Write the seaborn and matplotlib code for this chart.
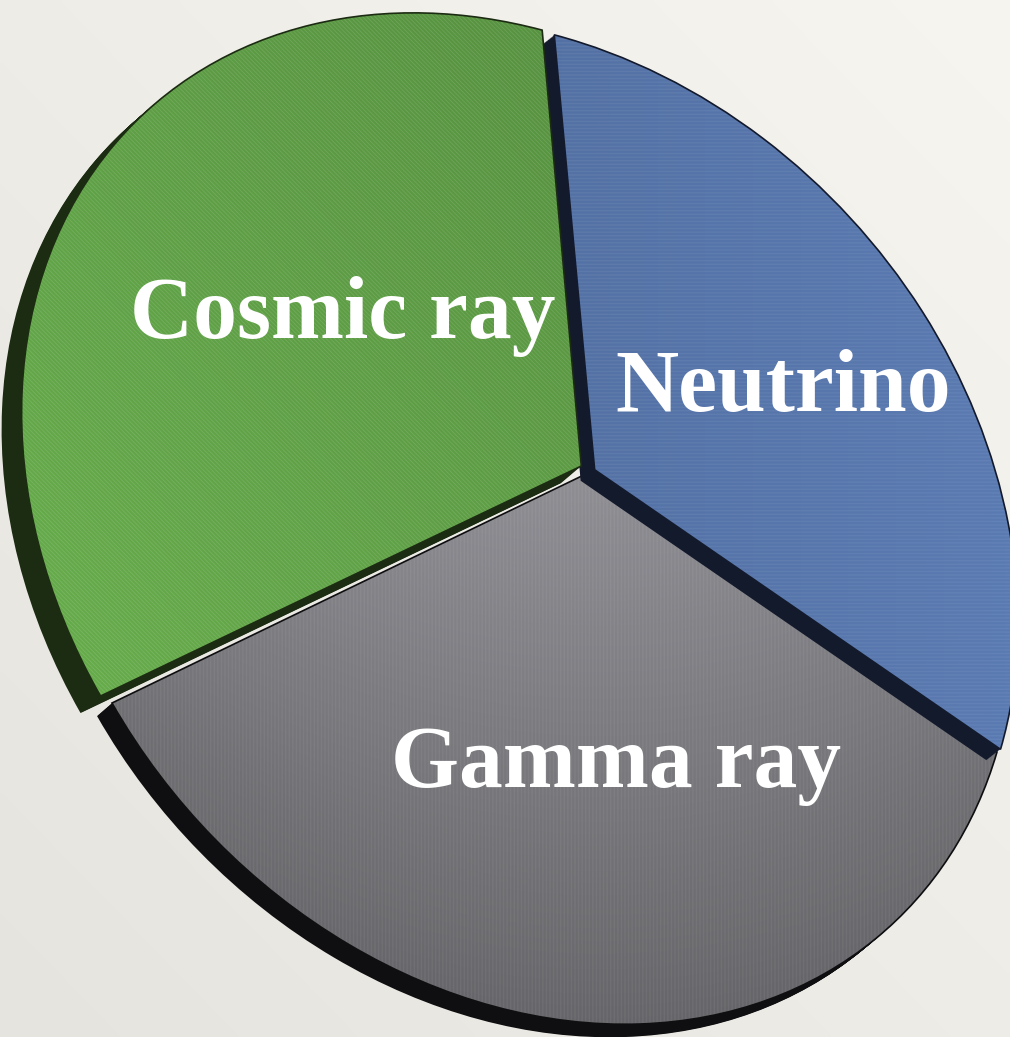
import numpy as np
import matplotlib
matplotlib.use("Agg")
import matplotlib.pyplot as plt
import matplotlib.transforms as mtransforms
from matplotlib.patches import Wedge
from matplotlib.colors import to_rgb
import seaborn as sns

# ---- data -------------------------------------------------------------
categories = ["Cosmic ray", "Gamma ray", "Neutrino"]
shares = [1, 1, 1]

# ---- styling ----------------------------------------------------------
face_colors = ["#5e9e45", "#737378", "#4d6ea7"]
side_colors = ["#1c2c12", "#0f0f11", "#131a2c"]
explode = [0.02, 0.0, 0.012]
hatches = ["\\\\\\\\\\\\\\\\", "||||||||||||", "------------"]
draw_order = [1, 2, 0]          # back to front
depths = [(-20.0, 17.0), (-15.0, 13.0), (-14.0, 11.0)]   # slab extrusion, pixels
label_nudge = [(10, 22), (0, 7), (-5, 13)]                # pixels
N_LAYERS = 20

W, HPX = 1010, 1037

sns.set_theme(style="white")
plt.rcParams["font.family"] = ["Liberation Serif", "DejaVu Serif"]
plt.rcParams["hatch.linewidth"] = 0.6


class Projection(mtransforms.Transform):
    """Planar perspective (homography) that tilts the pie disc."""
    input_dims = output_dims = 2
    is_separable = False
    has_inverse = False

    def __init__(self, m):
        super().__init__()
        self.m = np.asarray(m, float)

    def transform_non_affine(self, values):
        v = np.atleast_2d(np.asarray(values, float))
        p = np.column_stack([v, np.ones(len(v))]) @ self.m.T
        return p[:, :2] / p[:, 2:3]


def homography(src, dst):
    rows, rhs = [], []
    for (x, y), (u, v) in zip(src, dst):
        rows.append([x, y, 1, 0, 0, 0, -u * x, -u * y]); rhs.append(u)
        rows.append([0, 0, 0, x, y, 1, -v * x, -v * y]); rhs.append(v)
    h = np.linalg.solve(np.array(rows), np.array(rhs))
    return np.append(h, 1.0).reshape(3, 3)


# disc frame: centre, top, lower-left and lower-right rim points -> pixels
ang = np.radians([210, 330])
disc_pts = [(0, 0), (0, 1), (np.cos(ang[0]), np.sin(ang[0])), (np.cos(ang[1]), np.sin(ang[1]))]
view_pts = [(590, 472), (550, 36), (112, 703), (997, 752)]
proj = Projection(homography(disc_pts, view_pts))

fig = plt.figure(figsize=(W / 100, HPX / 100), dpi=100)
ax = fig.add_axes([0, 0, 1, 1])

# paper background
gy, gx = np.mgrid[0:HPX:4, 0:W:4]
t = np.clip(0.5 * (W - gx) / W + 0.5 * gy / HPX, 0, 1)[..., None]
top, bottom = np.array(to_rgb("#f7f5f0")), np.array(to_rgb("#e6e4df"))
ax.imshow(top * (1 - t) + bottom * t, extent=[0, W, HPX, 0], origin="upper",
          interpolation="bilinear", zorder=-10, aspect="auto")

wedges, texts = ax.pie(
    shares, explode=explode, labels=categories, labeldistance=0.55,
    startangle=90, counterclock=True, colors=face_colors,
    wedgeprops=dict(linewidth=0),
    textprops=dict(color="white", fontsize=63, fontweight="bold"),
)

face_tf = proj + ax.transData

# lighting across each face (multiplier on the base colour)
yy, xx = np.mgrid[0:HPX:3, 0:W:3].astype(float)
light = [
    0.92 + 0.18 * np.clip(((600 - xx) / 580 + (yy - 30) / 680) / 2, 0, 1),
    1.18 - 0.38 * np.clip((yy - 470) / 560, 0, 1) - 0.12 * ((xx - 600) / 480) ** 2,
    0.96 + 0.08 * (xx - 590) / 420,
]

for pos, i in enumerate(draw_order):
    w = wedges[i]
    base = 10 * pos
    dx, dy = depths[i]
    # side wall of the slab
    for k in range(1, N_LAYERS + 1):
        shift = mtransforms.Affine2D().translate(dx * k / N_LAYERS, dy * k / N_LAYERS)
        ax.add_patch(Wedge(w.center, w.r, w.theta1, w.theta2, facecolor=side_colors[i],
                           linewidth=0, transform=proj + shift + ax.transData, zorder=base + 1))
    # top face
    w.set_transform(face_tf)
    w.set_zorder(base + 2)
    img = np.clip(np.array(to_rgb(face_colors[i]))[None, None, :] * light[i][..., None], 0, 1)
    im = ax.imshow(img, extent=[0, W, HPX, 0], origin="upper", interpolation="bilinear",
                   zorder=base + 3, aspect="auto")
    im.set_clip_path(w)
    # brushed-metal grain
    ax.add_patch(Wedge(w.center, w.r, w.theta1, w.theta2, facecolor="none",
                       edgecolor=(1, 1, 1, 0.13), linewidth=0, hatch=hatches[i],
                       transform=face_tf, zorder=base + 4))
    # rim outline
    ax.add_patch(Wedge(w.center, w.r, w.theta1, w.theta2, fill=False,
                       edgecolor=side_colors[i], linewidth=1.2,
                       transform=face_tf, zorder=base + 5))

for txt, (nx, ny) in zip(texts, label_nudge):
    px, py = proj.transform(np.array([txt.get_position()]))[0]
    txt.set_position((px + nx, py + ny))
    txt.set_transform(ax.transData)
    txt.set_ha("center")
    txt.set_va("center")
    txt.set_zorder(100)

ax.set_aspect("auto")
ax.set_xlim(0, W)
ax.set_ylim(HPX, 0)
ax.axis("off")

fig.savefig("out.png", dpi=100)
